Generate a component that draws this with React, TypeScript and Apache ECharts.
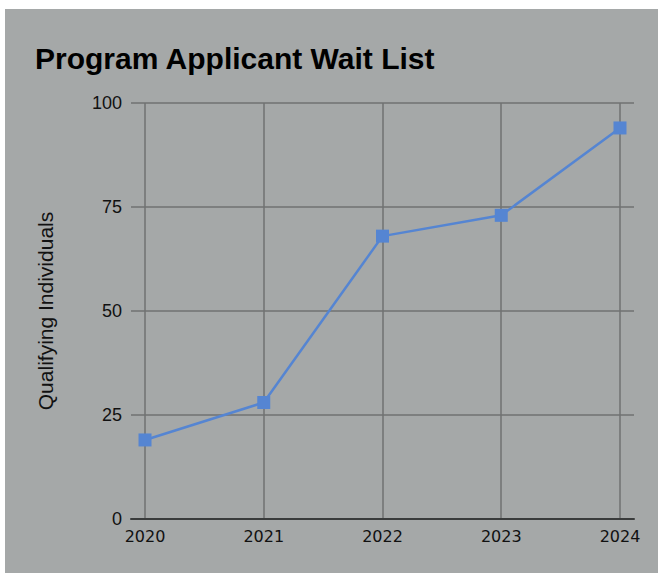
import React, { useEffect, useRef } from "react";
import * as echarts from "echarts";

const years = [2020, 2021, 2022, 2023, 2024];
const applicants = [19, 28, 68, 73, 94];
const yTicks = [0, 25, 50, 75, 100];

export default function App() {
  const ref = useRef<HTMLDivElement>(null);
  useEffect(() => {
    if (!ref.current) return;
    const chart = echarts.init(ref.current, null, { renderer: "svg" });
    chart.setOption({
      animation: false,
      backgroundColor: "#a5a8a8",
      title: {
        text: "Program Applicant Wait List",
        left: 25,
        top: 29,
        textStyle: {
          fontFamily: "Liberation Sans",
          fontSize: 30,
          fontWeight: "bold",
          color: "#000",
        },
      },
      grid: { left: 126, right: 24, top: 94, bottom: 54, containLabel: false },
      xAxis: {
        type: "value",
        min: 2019.882,
        max: 2024.118,
        axisLine: { show: true, lineStyle: { color: "#3a3c3c", width: 2 } },
        axisTick: { show: false, customValues: years },
        axisLabel: {
          customValues: years,
          formatter: (v: number) => String(v),
          fontFamily: "DejaVu Sans",
          fontSize: 16,
          color: "#111",
          margin: 9,
        },
        splitLine: { show: true, lineStyle: { color: "#707272", width: 1.5 } },
      },
      yAxis: {
        type: "value",
        min: 0,
        max: 100,
        interval: 25,
        name: "Qualifying Individuals",
        nameLocation: "middle",
        nameGap: 75,
        nameTextStyle: { fontFamily: "Liberation Sans", fontSize: 21, color: "#111" },
        axisLine: { show: false },
        axisTick: { show: false },
        axisLabel: {
          fontFamily: "Liberation Sans",
          fontSize: 18,
          color: "#111",
          margin: 9,
          customValues: yTicks,
        },
        splitLine: { show: true, lineStyle: { color: "#707272", width: 1.5 } },
      },
      series: [
        {
          type: "line",
          data: years.map((y, i) => [y, applicants[i]]),
          symbol: "rect",
          symbolSize: 13,
          lineStyle: { color: "#5585d2", width: 2.5 },
          itemStyle: { color: "#5585d2" },
        },
      ],
    });
    return () => chart.dispose();
  }, []);
  return (
    <div
      ref={ref}
      style={{ position: "fixed", left: 5, top: 9, width: 653, height: 564 }}
    />
  );
}
